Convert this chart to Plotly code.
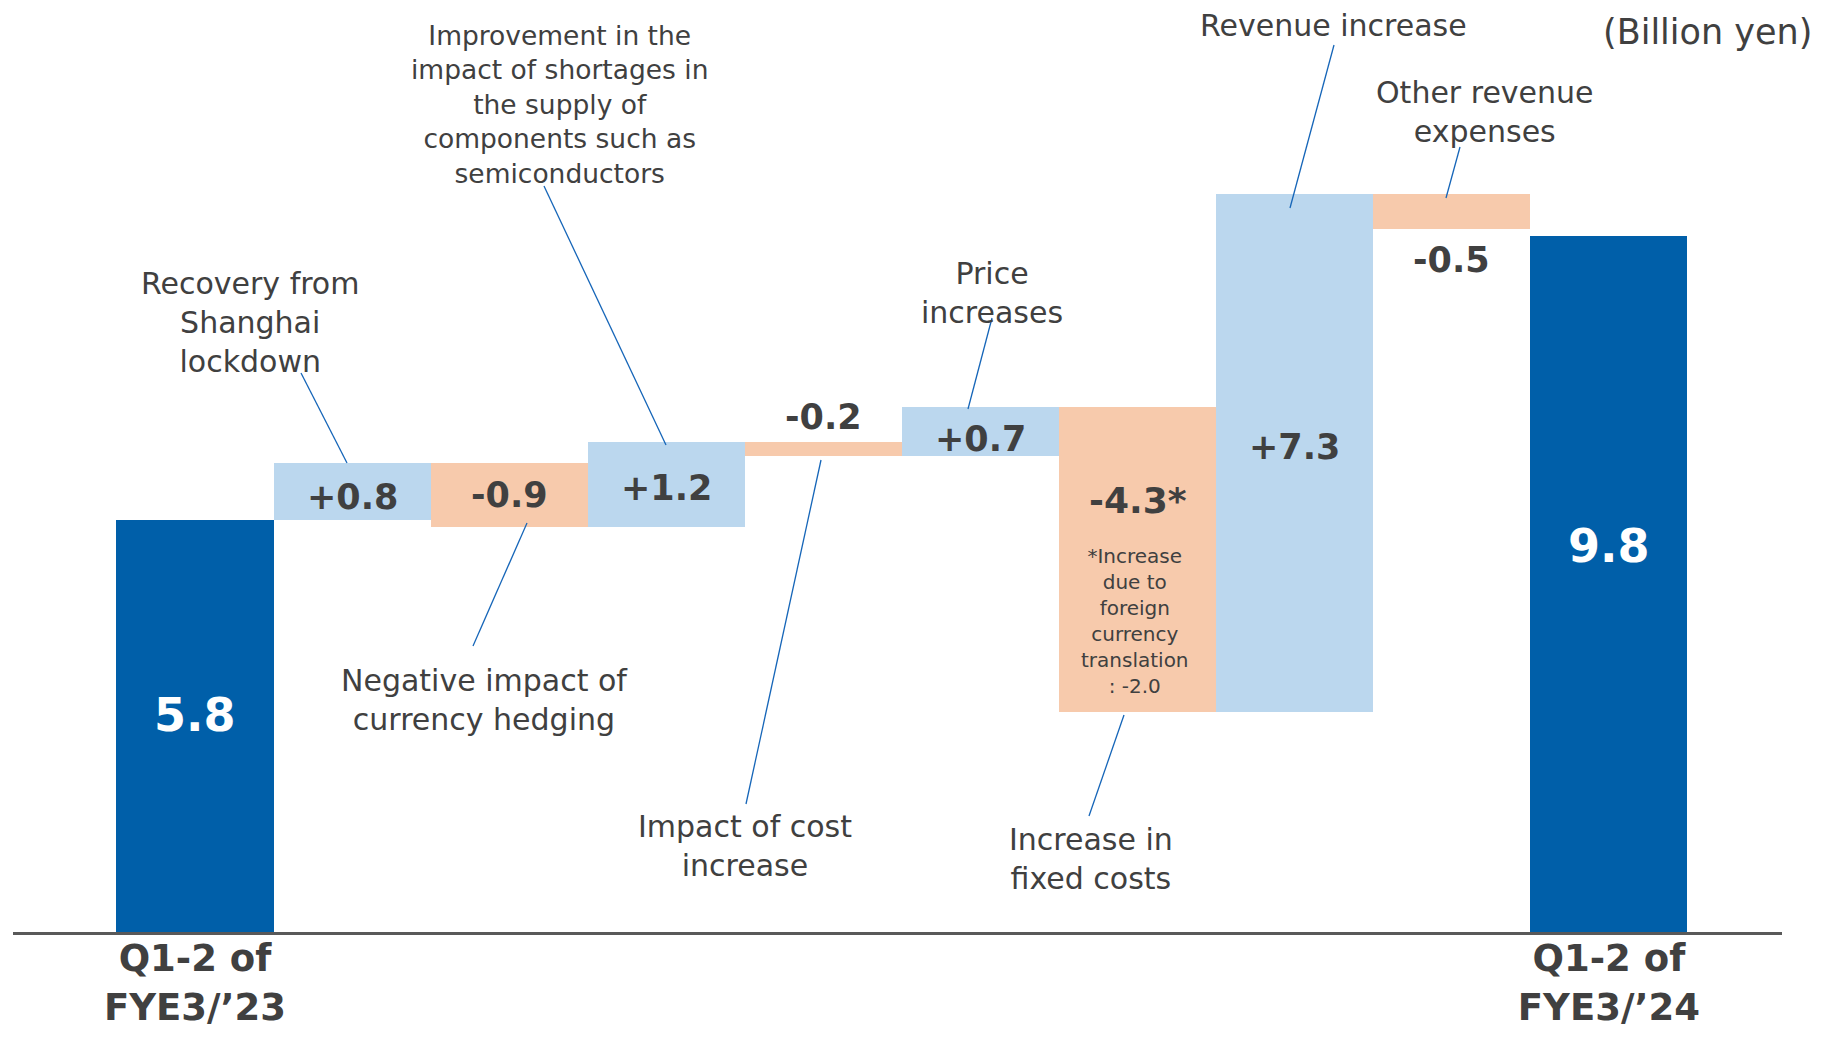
import plotly.graph_objects as go

# ---------------- data ----------------
steps = ["Q1-2 of FYE3/'23", "Recovery from Shanghai lockdown", "Currency hedging",
         "Component shortages", "Cost increase", "Price increases", "Fixed costs",
         "Revenue increase", "Other revenue expenses", "Q1-2 of FYE3/'24"]
values = [5.8, 0.8, -0.9, 1.2, -0.2, 0.7, -4.3, 7.3, -0.5, 9.8]
kinds = ["total", "rel", "rel", "rel", "rel", "rel", "rel", "rel", "rel", "total"]
value_labels = ["5.8", "+0.8", "-0.9", "+1.2", "-0.2", "+0.7", "-4.3*", "+7.3", "-0.5", "9.8"]
tick_labels = ["Q1-2 of<br>FYE3/’23", "Q1-2 of<br>FYE3/’24"]
tick_positions = [0, 9]
footnote = "*Increase<br>due to<br>foreign<br>currency<br>translation<br>: -2.0"
unit_label = "(Billion yen)"

# ---------------- style ----------------
DARK = "#005FA9"
LIGHT = "#BBD7EE"
PEACH = "#F7CAAC"
TEXT = "#404040"
LEAD = "#1565B8"
FONT = "DejaVu Sans"

OFF = 8                      # page body margin
W, H = 1836 - 2 * OFF, 1038 - 2 * OFF
PL, PR, PBOT = 13 - OFF, 1782 - OFF, 932 - OFF  # plot area edges in figure pixels
PX_PER_UNIT = 71.0
BAR_X0, BAR_DX = 195.0 - OFF, 157.1

def fx(px):
    return (px - OFF - PL) / (PR - PL)

def fy(py):
    return (PBOT - (py - OFF)) / PBOT

# compute waterfall bases
bases, heights, colors = [], [], []
cum = 0.0
for v, k in zip(values, kinds):
    if k == "total":
        bases.append(0.0)
        heights.append(v)
        colors.append(DARK)
        cum = v
    else:
        if v >= 0:
            bases.append(cum)
            heights.append(v)
            colors.append(LIGHT)
        else:
            bases.append(cum + v)
            heights.append(-v)
            colors.append(PEACH)
        cum += v

xs = list(range(len(values)))
fig = go.Figure(go.Bar(x=xs, y=heights, base=bases, marker=dict(color=colors, line=dict(width=0)),
                       width=1.0, hoverinfo="skip"))

x_left = -(BAR_X0 - PL) / BAR_DX
x_right = (PR - BAR_X0) / BAR_DX

annotations = []
# value labels: (y pixel in page, size, color)
label_pos = [
    (715, 46, "white"), (497, 35, TEXT), (495, 35, TEXT), (488, 35, TEXT), (417, 35, TEXT),
    (439, 35, TEXT), (500, 36, TEXT), (447, 35, TEXT), (260, 35, TEXT), (546, 46, "white"),
]
for i, (lab, (ypx, sz, col)) in enumerate(zip(value_labels, label_pos)):
    annotations.append(dict(x=i, xref="x", y=fy(ypx), yref="paper", text=lab, showarrow=False,
                            xanchor="center", yanchor="middle",
                            font=dict(family=FONT, size=sz, color=col, weight="bold")))

# descriptive labels (text, x px, y px, size) in page pixels
desc = [
    ("Recovery from<br>Shanghai<br>lockdown", 250, 322, 30),
    ("Improvement in the<br>impact of shortages in<br>the supply of<br>components such as<br>semiconductors", 559, 104, 26.5),
    ("Negative impact of<br>currency hedging", 484, 700, 30),
    ("Impact of cost<br>increase", 745, 846, 30),
    ("Price<br>increases", 992, 293, 30),
    ("Increase in<br>fixed costs", 1091, 859, 30),
    ("Revenue increase", 1333, 25, 30),
    ("Other revenue<br>expenses", 1485, 112, 30),
    (footnote, 1135, 621, 20),
]
for t, x, y, s in desc:
    annotations.append(dict(x=fx(x), xref="paper", y=fy(y), yref="paper", text=t, showarrow=False,
                            xanchor="center", yanchor="middle",
                            font=dict(family=FONT, size=s, color=TEXT)))

annotations.append(dict(x=fx(1814), xref="paper", y=fy(32), yref="paper", text=unit_label,
                        showarrow=False, xanchor="right", yanchor="middle",
                        font=dict(family=FONT, size=35, color=TEXT)))

# leader lines (page pixel endpoints)
leaders = [
    (301, 373, 347, 463),
    (544, 186, 666, 445),
    (527, 523, 473, 646),
    (821, 460, 746, 804),
    (992, 318, 968, 409),
    (1124, 715, 1089, 816),
    (1334, 45, 1290, 208),
    (1460, 147, 1446, 198),
]
shapes = [dict(type="line", xref="paper", yref="paper", x0=fx(a), y0=fy(b), x1=fx(c), y1=fy(d),
               line=dict(color=LEAD, width=1.3)) for a, b, c, d in leaders]

fig.update_layout(
    width=W, height=H,
    margin=dict(l=PL, r=W - PR, t=0, b=H - PBOT, autoexpand=False),
    paper_bgcolor="white", plot_bgcolor="white",
    showlegend=False, bargap=0,
    annotations=annotations, shapes=shapes,
    xaxis=dict(range=[x_left, x_right], tickvals=tick_positions, ticktext=tick_labels,
               showgrid=False, zeroline=False, showline=True, linecolor="#595959", linewidth=3,
               ticks="", ticklabelstandoff=-8, automargin=False,
               tickfont=dict(family=FONT, size=37, color=TEXT, weight="bold")),
    yaxis=dict(range=[0, PBOT / PX_PER_UNIT], visible=False, showgrid=False, zeroline=False,
               automargin=False),
)

fig.write_html("out.html")
